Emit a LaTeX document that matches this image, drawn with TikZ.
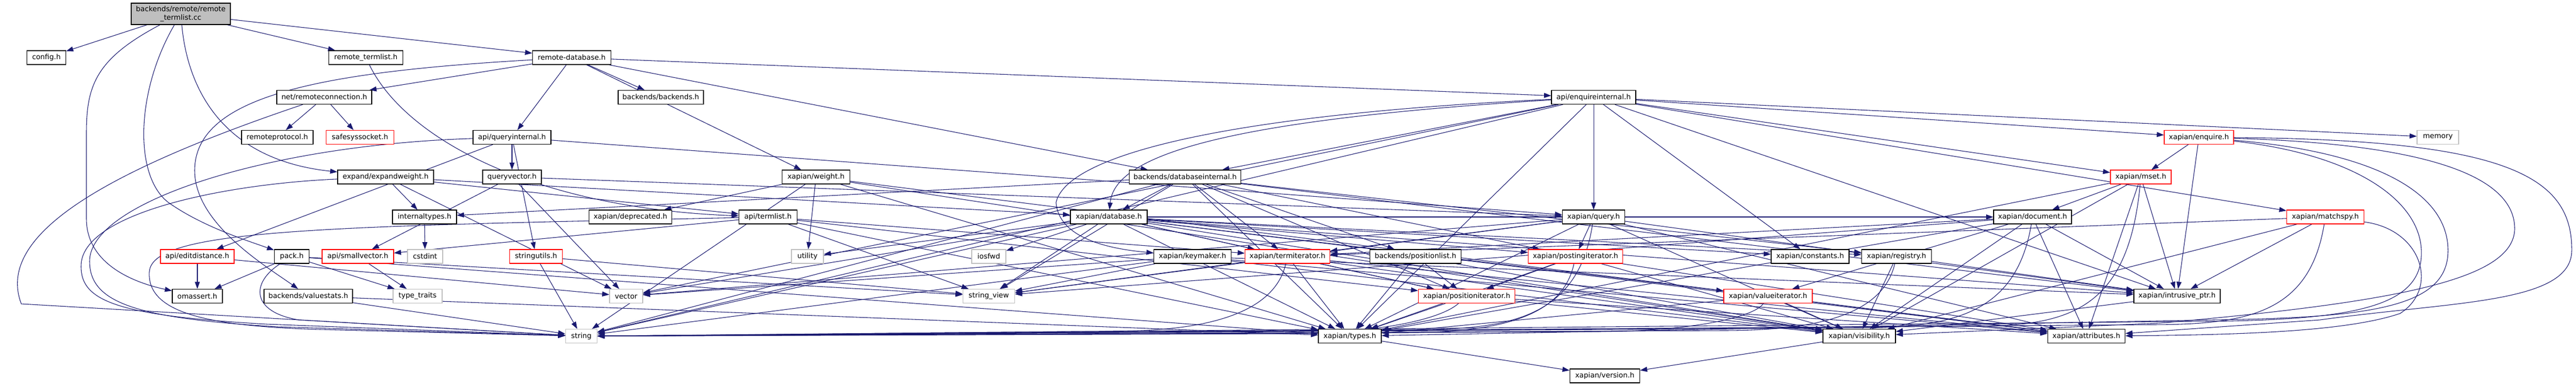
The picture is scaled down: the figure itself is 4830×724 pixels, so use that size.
\documentclass[tikz,border=0pt]{standalone}
\usepackage{fontspec}
\setmainfont{DejaVu Sans}
\usetikzlibrary{arrows.meta}
\definecolor{edgeblue}{HTML}{191970}
\definecolor{extgray}{HTML}{BFBFBF}
\definecolor{rootfill}{HTML}{BFBFBF}
\pgfdeclarelayer{bg}
\pgfdeclarelayer{edges}
\pgfsetlayers{bg,edges,main}
\tikzset{
  nd/.style={draw=black, fill=white, line width=0.9pt, inner sep=0pt, minimum height=19.5pt, font=\fontsize{10}{12}\selectfont},
  trunc/.style={nd, draw=red},
  ext/.style={nd, draw=extgray},
  rootnd/.style={nd, fill=rootfill, align=center, minimum height=30pt},
  dep/.style={draw=edgeblue, line width=0.8pt, -{Triangle[length=10pt,width=7pt]}},
}
\newcommand\nn[5]{\node[#1, minimum width=#4*0.75pt] (#2) at (#3) {#5};}
\newcommand\deps[2]{\foreach \t in {#2}{\draw[dep] (#1) -- (\t);}}
% source, source x, mid y, band y, target
\newcommand\band[5]{\draw[dep] (#1) .. controls (#2,#3) and (#2-120,#4) .. (#2-300,#4) -- (#5);}
\begin{document}
\begin{tikzpicture}[x=0.75pt,y=-0.75pt]
\useasboundingbox (0,0) rectangle (4830,724);
\begin{pgfonlayer}{bg}
\fill[white] (0,0) rectangle (4830,724);
\end{pgfonlayer}
% rank 0
\nn{rootnd}{root}{339,26}{186}{backends/remote/remote\\\_termlist.cc}
% rank 1
\nn{nd}{config}{87,108}{73}{config.h}
\nn{nd}{rtlh}{686,108}{139}{remote\_termlist.h}
\nn{nd}{rdb}{1072,108}{147}{remote-database.h}
% rank 2
\nn{nd}{rconn}{608,182.5}{178}{net/remoteconnection.h}
\nn{nd}{backends}{1239,182.5}{160}{backends/backends.h}
\nn{nd}{enqint}{2988,182.5}{158}{api/enquireinternal.h}
% rank 3
\nn{nd}{rproto}{520,257.5}{134}{remoteprotocol.h}
\nn{trunc}{safesock}{675,257.5}{127}{safesyssocket.h}
\nn{nd}{qint}{960,257.5}{146}{api/queryinternal.h}
\nn{trunc}{xenquire}{4123,257.5}{130}{xapian/enquire.h}
\nn{ext}{memory}{4571,257.5}{78}{memory}
% rank 4
\nn{nd}{expw}{723,332}{180}{expand/expandweight.h}
\nn{nd}{qvec}{960,332}{110}{queryvector.h}
\nn{nd}{xweight}{1530,332}{127}{xapian/weight.h}
\nn{nd}{dbint}{2222,332}{209}{backends/databaseinternal.h}
\nn{trunc}{xmset}{4014,332}{114}{xapian/mset.h}
% rank 5
\nn{nd}{itypes}{796,407}{120}{internaltypes.h}
\nn{nd}{xdepr}{1182,407}{155}{xapian/deprecated.h}
\nn{nd}{atl}{1440,407}{109}{api/termlist.h}
\nn{nd}{xdb}{2079,407}{144}{xapian/database.h}
\nn{nd}{xquery}{2988,407}{117}{xapian/query.h}
\nn{nd}{xdoc}{3811,407}{146}{xapian/document.h}
\nn{trunc}{xmspy}{4360,407}{145}{xapian/matchspy.h}
% rank 6
\nn{trunc}{editd}{370,481}{138}{api/editdistance.h}
\nn{nd}{pack}{547,481}{65}{pack.h}
\nn{trunc}{svec}{671,481}{134}{api/smallvector.h}
\nn{ext}{cstdint}{797,481}{66}{cstdint}
\nn{trunc}{sutils}{1005,481}{99}{stringutils.h}
\nn{ext}{utility}{1514,481}{60}{utility}
\nn{ext}{iosfwd}{1854,481}{64}{iosfwd}
\nn{nd}{xkeym}{2236,481}{145}{xapian/keymaker.h}
\nn{trunc}{xtermit}{2414,481}{159}{xapian/termiterator.h}
\nn{nd}{poslist}{2654,481}{171}{backends/positionlist.h}
\nn{trunc}{xpostit}{2954,481}{177}{xapian/postingiterator.h}
\nn{nd}{xconst}{3394,481}{146}{xapian/constants.h}
\nn{nd}{xreg}{3556,481}{131}{xapian/registry.h}
% rank 7
\nn{nd}{omassert}{370,555.5}{94}{omassert.h}
\nn{nd}{vstats}{578,555.5}{166}{backends/valuestats.h}
\nn{ext}{typetraits}{783,555.5}{92}{type\_traits}
\nn{ext}{vector}{1174,555.5}{62}{vector}
\nn{ext}{sview}{1854,555.5}{97}{string\_view}
\nn{trunc}{xposit}{2750,555.5}{181}{xapian/positioniterator.h}
\nn{trunc}{xvalit}{3315,555.5}{166}{xapian/valueiterator.h}
\nn{nd}{xiptr}{4082,555.5}{162}{xapian/intrusive\_ptr.h}
% rank 8
\nn{ext}{string}{1090,630.5}{59}{string}
\nn{nd}{xtypes}{2531,630.5}{118}{xapian/types.h}
\nn{nd}{xvis}{3486,630.5}{136}{xapian/visibility.h}
\nn{nd}{xattr}{3912,630.5}{145}{xapian/attributes.h}
% rank 9
\nn{nd}{xversion}{3009,705}{131}{xapian/version.h}

\begin{pgfonlayer}{edges}
% root
\deps{root}{config,rtlh,rdb}
\draw[dep] (root) .. controls (180,110) and (162,160) .. (162,250) -- (162,410) .. controls (162,495) and (250,530) .. (omassert);
\draw[dep] (root) .. controls (255,170) and (250,330) .. (316,380) .. controls (380,425) and (460,450) .. (pack);
\draw[dep] (root) .. controls (352,170) and (420,300) .. (expw);
% remote_termlist.h
\draw[dep] (rtlh) .. controls (760,260) and (1000,390) .. (atl);
% remote-database.h
\deps{rdb}{rconn,backends,enqint,qint,xweight,dbint}
\draw[dep] (rdb) .. controls (600,135) and (365,180) .. (365,320) .. controls (365,420) and (500,500) .. (vstats);
% net/remoteconnection.h
\deps{rconn}{rproto,safesock}
\draw[dep] (rconn) .. controls (200,320) and (-10,440) .. (40,570) -- (string);
% api/enquireinternal.h
\deps{enqint}{dbint,xquery,xconst,xenquire,memory,xmset,xmspy,xiptr,xtypes,string,vector}
\draw[dep] (enqint) .. controls (2300,225) and (2090,290) .. (xdb);
\draw[dep] (enqint) .. controls (2300,215) and (2000,290) .. (1980,380) .. controls (1985,440) and (2060,465) .. (xkeym);
% api/queryinternal.h
\deps{qint}{qvec,editd,sutils,xquery}
\draw[dep] (qint) .. controls (500,272) and (168,380) .. (168,490) .. controls (168,570) and (260,597) .. (520,613) -- (string);
% queryvector.h
\deps{qvec}{svec,xquery,vector}
% expand/expandweight.h
\deps{expw}{itypes,xdb,atl,vector}
\draw[dep] (expw) .. controls (420,345) and (150,400) .. (152,500) .. controls (152,565) and (220,592) .. (500,608) -- (string);
% xapian/weight.h
\deps{xweight}{utility,xdepr,string,xtypes,xvis,xattr}
% backends/databaseinternal.h
\deps{dbint}{itypes,xdb,xtermit,poslist,xpostit,xposit,xreg,string,sview,xtypes,xiptr}
% xapian/enquire.h
\deps{xenquire}{xmset,xiptr}
\draw[dep] (xenquire) .. controls (4700,262) and (4823,330) .. (4822,470) .. controls (4821,570) and (4600,565) .. (4350,600) -- (xattr);
\draw[dep] (xenquire) .. controls (4550,270) and (4716,330) .. (4715,430) .. controls (4712,520) and (4520,565) .. (4050,606) -- (xvis);
\draw[dep] (xenquire) .. controls (4450,285) and (4590,360) .. (4590,470) .. controls (4590,575) and (4450,596) .. (4150,600) -- (xtypes);
\draw[dep] (xenquire) .. controls (4420,290) and (4545,380) .. (4540,480) .. controls (4535,580) and (4400,602) .. (4100,603) -- (string);
% xapian/mset.h
\deps{xmset}{xdoc,xiptr,xtypes,xvis,xattr}
\band{xmset}{3990}{590}{612}{string}
% xapian/matchspy.h
\deps{xmspy}{xiptr,xtermit,xvis}
\draw[dep] (xmspy) .. controls (4540,430) and (4575,540) .. (4500,588) .. controls (4400,622) and (4200,628) .. (xattr);
\band{xmspy}{4330}{590}{609}{string}
% xapian/document.h
\deps{xdoc}{xvis,xvalit,xattr,xiptr,xtermit,sview,xtypes}
\band{xdoc}{3780}{590}{615}{string}
% xapian/query.h
\deps{xquery}{xpostit,xtermit,xiptr,xtypes,xvis,xattr,sview,vector}
\band{xquery}{2960}{590}{618}{string}
% xapian/database.h
\deps{xdb}{iosfwd,sview,string,utility,vector,xtermit,xpostit,xposit,xvalit,xdoc,xconst,xreg,xtypes,xiptr,xvis,xattr}
% api/termlist.h
\deps{atl}{svec,xtermit,xposit,xtypes,sview}
\draw[dep] (atl) .. controls (600,425) and (285,430) .. (280,510) .. controls (275,590) and (400,612) .. (600,618) -- (string);
% api/editdistance.h
\deps{editd}{omassert,vector}
% pack.h
\deps{pack}{omassert,typetraits,sview,xtypes}
\draw[dep] (pack) .. controls (470,530) and (470,585) .. (560,600) -- (string);
\deps{svec}{typetraits}
\deps{itypes}{cstdint}
\deps{sutils}{string,sview}
\deps{xkeym}{string,sview,vector,xiptr,xvis,xattr}
% xapian/termiterator.h
\deps{xtermit}{xtypes,xposit,xvis,xattr,sview}
\band{xtermit}{2390}{585}{621}{string}
\deps{poslist}{xtypes,xposit,xvis}
% xapian/postingiterator.h
\deps{xpostit}{xposit,xtypes,xvis,xattr}
\band{xpostit}{2930}{595}{624}{string}
\deps{xreg}{xvis,xiptr}
\band{xreg}{3530}{590}{620}{string}
\deps{vstats}{string,xtypes}
% xapian/positioniterator.h
\deps{xposit}{xtypes,xvis,xattr}
\band{xposit}{2700}{600}{626}{string}
% xapian/valueiterator.h
\deps{xvalit}{xvis,xattr,xtypes}
\band{xvalit}{3290}{595}{622}{string}
\deps{xiptr}{xvis}
\deps{xtypes}{xversion}
\deps{xvis}{xversion}
\end{pgfonlayer}
\end{tikzpicture}
\end{document}
